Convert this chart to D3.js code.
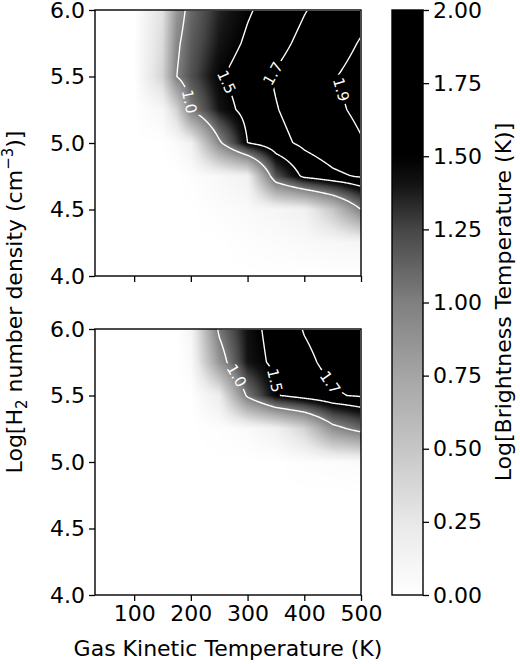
<!DOCTYPE html>
<html><head><meta charset="utf-8">
<script src="https://cdn.jsdelivr.net/npm/d3@7"></script>
<style>body{margin:0;background:#fff}text{font-family:"DejaVu Sans",sans-serif}</style>
</head><body>
<svg id="chart" width="520" height="664"></svg>
<script>
// grid columns (gas kinetic temperature, K) and rows (log H2 density)
var tempGrid = [30, 100, 150, 175, 200, 250, 300, 350, 400, 450, 500];
var densGrid = [6.0, 5.75, 5.5, 5.25, 5.0, 4.75, 4.5, 4.25, 4.0];

// log brightness temperature, rows follow densGrid
var topValues = [
  [0, 0, 0.30, 0.85, 1.10, 1.35, 1.48, 1.58, 1.69, 1.78, 1.86],
  [0, 0, 0.35, 0.95, 1.15, 1.40, 1.53, 1.64, 1.75, 1.84, 1.91],
  [0, 0, 0.40, 1.00, 1.20, 1.48, 1.60, 1.72, 1.81, 1.89, 1.95],
  [0, 0, 0.10, 0.40, 1.00, 1.40, 1.57, 1.69, 1.79, 1.87, 1.93],
  [0, 0, 0, 0.05, 0.15, 0.95, 1.50, 1.64, 1.74, 1.82, 1.89],
  [0, 0, 0, 0, 0.02, 0.08, 0.15, 1.20, 1.55, 1.66, 1.72],
  [0, 0, 0, 0, 0, 0.03, 0.06, 0.10, 0.15, 0.50, 1.00],
  [0, 0, 0, 0, 0, 0, 0.02, 0.04, 0.06, 0.08, 0.10],
  [0, 0, 0, 0, 0, 0, 0, 0, 0, 0, 0]
];
var bottomValues = [
  [0, 0, 0, 0, 0.10, 1.05, 1.42, 1.58, 1.71, 1.78, 1.84],
  [0, 0, 0, 0, 0.05, 0.85, 1.40, 1.55, 1.66, 1.75, 1.80],
  [0, 0, 0, 0, 0, 0.20, 1.05, 1.48, 1.60, 1.68, 1.72],
  [0, 0, 0, 0, 0, 0.02, 0.05, 0.15, 0.40, 0.90, 1.10],
  [0, 0, 0, 0, 0, 0, 0, 0, 0.02, 0.03, 0.05],
  [0, 0, 0, 0, 0, 0, 0, 0, 0, 0, 0],
  [0, 0, 0, 0, 0, 0, 0, 0, 0, 0, 0],
  [0, 0, 0, 0, 0, 0, 0, 0, 0, 0, 0],
  [0, 0, 0, 0, 0, 0, 0, 0, 0, 0, 0]
];

var topLevels = [1.0, 1.5, 1.7, 1.9];
var bottomLevels = [1.0, 1.5, 1.7];
// where each contour label sits [T, logn]
var topLabelAt = [[180, 5.3], [258, 5.45], [333, 5.55], [466, 5.4]];
var bottomLabelAt = [[270, 5.62], [355, 5.62], [440, 5.58]];

var xTicks = [100, 200, 300, 400, 500];
var yTicks = [4.0, 4.5, 5.0, 5.5, 6.0];
var cbTicks = [0, 0.25, 0.5, 0.75, 1.0, 1.25, 1.5, 1.75, 2.0];
// grey level of the colour map as it reads off the colour bar
var cmapAt = [0, 0.25, 0.5, 0.75, 1.0, 1.25, 1.4, 1.5, 2.0];
var cmapGrey = [255, 232, 198, 165, 128, 70, 20, 0, 0];

var svg = d3.select("#chart");
var left = 95, right = 361, side = 266, fs = 22;
var panels = [
  {top: 10, values: topValues, levels: topLevels, labels: topLabelAt, id: "a"},
  {top: 329, values: bottomValues, levels: bottomLevels, labels: bottomLabelAt, id: "b"}
];
var greyScale = d3.scaleLinear().domain(cmapAt).range(cmapGrey).clamp(true);
var color = function(v) { var g = Math.round(greyScale(v)); return "rgb(" + g + "," + g + "," + g + ")"; };

function sample(values, t, n) {
  var i = Math.max(0, Math.min(tempGrid.length - 2, d3.bisectRight(tempGrid, t) - 1));
  var fx = (t - tempGrid[i]) / (tempGrid[i + 1] - tempGrid[i]);
  var r = (6.0 - n) / 0.25, j = Math.max(0, Math.min(densGrid.length - 2, Math.floor(r)));
  var fy = r - j;
  fx = Math.max(0, Math.min(1, fx)); fy = Math.max(0, Math.min(1, fy));
  var a = values[j][i], b = values[j][i + 1], c = values[j + 1][i], d = values[j + 1][i + 1];
  return (a * (1 - fx) + b * fx) * (1 - fy) + (c * (1 - fx) + d * fx) * fy;
}

panels.forEach(function(p) {
  var x = d3.scaleLinear().domain([31, 500]).range([left, right]);
  var y = d3.scaleLinear().domain([4, 6]).range([p.top + side, p.top]);
  var g = svg.append("g");

  // heatmap image
  var canvas = document.createElement("canvas");
  canvas.width = side; canvas.height = side;
  var ctx = canvas.getContext("2d");
  var img = ctx.createImageData(side, side);
  var grid = new Array(side * side);
  for (var py = 0; py < side; py++) for (var px = 0; px < side; px++) {
    var v = sample(p.values, x.invert(left + px + 0.5), y.invert(p.top + py + 0.5));
    grid[py * side + px] = v;
    var gr = Math.round(greyScale(v)), k = 4 * (py * side + px);
    img.data[k] = img.data[k + 1] = img.data[k + 2] = gr; img.data[k + 3] = 255;
  }
  ctx.putImageData(img, 0, 0);
  g.append("image").attr("x", left).attr("y", p.top).attr("width", side).attr("height", side)
    .attr("href", canvas.toDataURL());

  // contours
  var contours = d3.contours().size([side, side]).thresholds(p.levels)(grid);
  var path = d3.geoPath(d3.geoTransform({point: function(a, b) { this.stream.point(left + a, p.top + b); }}));
  var mask = svg.append("defs").append("mask").attr("id", "m" + p.id);
  mask.append("rect").attr("x", 0).attr("y", 0).attr("width", 520).attr("height", 664).attr("fill", "#fff");
  var lg = g.append("g");
  g.append("g").attr("mask", "url(#m" + p.id + ")").selectAll("path").data(contours).enter().append("path")
    .attr("d", path).attr("fill", "none").attr("stroke", "#fff").attr("stroke-width", 1.4);

  contours.forEach(function(c, ci) {
    var target = [x(p.labels[ci][0]) - left, y(p.labels[ci][1]) - p.top], best = null, bd = 1e9;
    c.coordinates.forEach(function(poly) { poly.forEach(function(ring) {
      ring.forEach(function(pt, k) {
        if (pt[0] <= 0.5 || pt[0] >= side - 0.5 || pt[1] <= 0.5 || pt[1] >= side - 0.5) return;
        var dd = (pt[0] - target[0]) * (pt[0] - target[0]) + (pt[1] - target[1]) * (pt[1] - target[1]);
        if (dd < bd) { bd = dd; best = {ring: ring, k: k}; }
      });
    }); });
    if (!best) return;
    var r = best.ring, n = r.length;
    var p0 = r[(best.k - 4 + n) % n], p1 = r[(best.k + 4) % n], pt = r[best.k];
    var ang = Math.atan2(p1[1] - p0[1], p1[0] - p0[0]) * 180 / Math.PI;
    if (ang > 90) ang -= 180; if (ang < -90) ang += 180;
    var cx = left + pt[0], cy = p.top + pt[1];
    var tf = "translate(" + cx + "," + cy + ") rotate(" + ang + ")";
    mask.append("rect").attr("x", -15).attr("y", -8).attr("width", 30).attr("height", 16)
      .attr("transform", tf).attr("fill", "#000");
    lg.append("text").attr("transform", tf).attr("text-anchor", "middle").attr("dy", "0.35em")
      .attr("font-size", 15).attr("fill", "#fff").text(p.levels[ci].toFixed(1));
  });

  var xa = svg.append("g").attr("transform", "translate(0," + (p.top + side) + ")")
    .call(d3.axisBottom(x).tickValues(xTicks).tickSize(6).tickPadding(4).tickFormat(p.id === "b" ? d3.format("d") : ""));
  var ya = svg.append("g").attr("transform", "translate(" + left + ",0)")
    .call(d3.axisLeft(y).tickValues(yTicks).tickSize(6).tickPadding(4).tickFormat(d3.format(".1f")));
  [xa, ya].forEach(function(a) { a.select(".domain").remove(); a.selectAll("line").attr("stroke-width", 1.3); a.selectAll("text").attr("font-size", fs).attr("fill", "#000"); });
  svg.append("rect").attr("x", left).attr("y", p.top).attr("width", side).attr("height", side)
    .attr("fill", "none").attr("stroke", "#000").attr("stroke-width", 1.4);
});

// colorbar
var cbX = 392, cbW = 31, cbTop = 10, cbBot = 595;
var cy = d3.scaleLinear().domain([0, 2]).range([cbBot, cbTop]);
var grad = svg.append("defs").append("linearGradient").attr("id", "cbg").attr("x1", 0).attr("y1", 1).attr("x2", 0).attr("y2", 0);
d3.range(0, 2.001, 0.05).forEach(function(t) { grad.append("stop").attr("offset", t / 2).attr("stop-color", color(t)); });
svg.append("rect").attr("x", cbX).attr("y", cbTop).attr("width", cbW).attr("height", cbBot - cbTop)
  .attr("fill", "url(#cbg)").attr("stroke", "#000").attr("stroke-width", 1.4);
var ca = svg.append("g").attr("transform", "translate(" + (cbX + cbW) + ",0)")
  .call(d3.axisRight(cy).tickValues(cbTicks).tickSize(6).tickPadding(4).tickFormat(d3.format(".2f")));
ca.select(".domain").remove();
ca.selectAll("line").attr("stroke-width", 1.3);
ca.selectAll("text").attr("font-size", fs).attr("fill", "#000");

// axis titles
svg.append("text").attr("x", 228).attr("y", 656).attr("text-anchor", "middle")
  .attr("font-size", fs).text("Gas Kinetic Temperature (K)");
var yl = svg.append("text").attr("transform", "translate(22,302) rotate(-90)").attr("text-anchor", "middle").attr("font-size", fs);
yl.append("tspan").text("Log[H");
yl.append("tspan").attr("font-size", 15).attr("dy", 5).text("2");
yl.append("tspan").attr("dy", -5).text(" number density (cm");
yl.append("tspan").attr("font-size", 15).attr("dy", -9).text("−3");
yl.append("tspan").attr("dy", 9).text(")]");
svg.append("text").attr("transform", "translate(511,302) rotate(-90)").attr("text-anchor", "middle")
  .attr("font-size", fs).text("Log[Brightness Temperature (K)]");
</script>
</body></html>
